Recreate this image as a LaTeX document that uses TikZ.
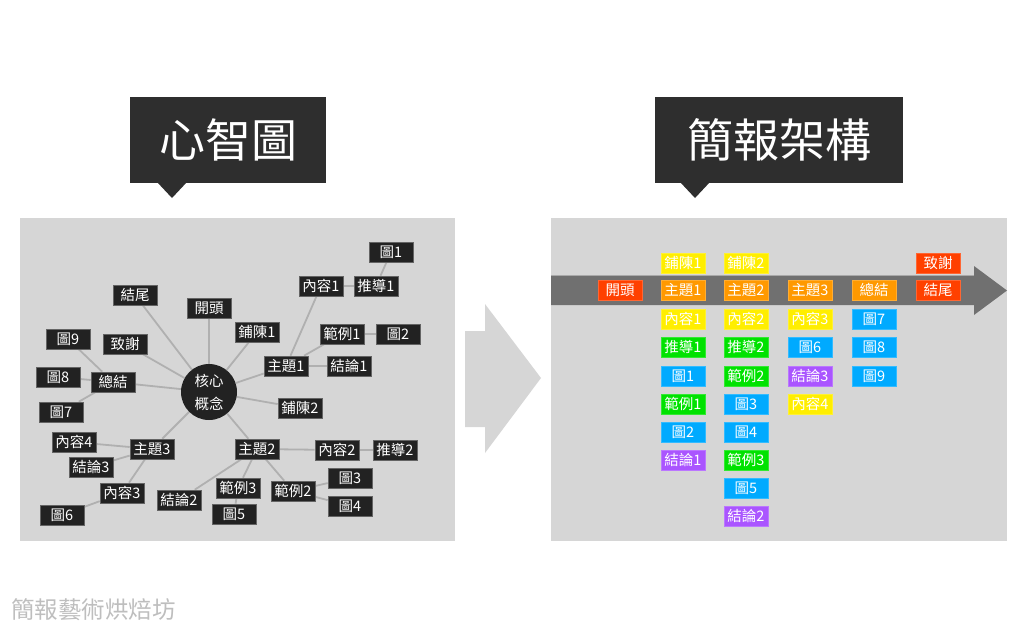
\documentclass[tikz,border=0pt]{standalone}
\usepackage{fontspec}
\setmainfont{Noto Sans CJK TC}
\usepackage{tikz}
\usetikzlibrary{positioning, backgrounds}
\definecolor{TitleDark}  {RGB}{46,  46,  46}
\definecolor{PanelGray}  {RGB}{214, 214, 214}
\definecolor{NodeDark}   {RGB}{34,  34,  34}
\definecolor{LinkGray}   {RGB}{176, 176, 176}
\definecolor{BandGray}   {RGB}{112, 112, 112}
\definecolor{FootGray}   {RGB}{190, 190, 190}
\definecolor{OpenRed}    {RGB}{255, 64,  0}
\definecolor{ThemeOrange}{RGB}{255, 153, 0}
\definecolor{IntroYellow}{RGB}{255, 238, 0}
\definecolor{ProofGreen} {RGB}{0,   226, 0}
\definecolor{FigBlue}    {RGB}{0,   170, 255}
\definecolor{ConclPurple}{RGB}{170, 85,  255}

\begin{document}
\begin{tikzpicture}[
  x=1pt, y=-1pt,
  title/.style = {
    rectangle, fill=TitleDark, text=white,
    minimum height=86pt, inner sep=0pt,
    font=\fontsize{46}{46}\selectfont
  },
  panel/.style = {fill=PanelGray},
  idea/.style = {
    rectangle, fill=NodeDark, draw=NodeDark!70!white, line width=0.6pt,
    minimum width=44pt, minimum height=20pt, inner sep=0pt,
    text=white, font=\fontsize{14.5}{14.5}\selectfont
  },
  core/.style = {
    circle, fill=NodeDark, minimum size=56pt, inner sep=0pt,
    text=white, align=center, font=\fontsize{14.5}{23}\selectfont
  },
  link/.style = {draw=LinkGray, line width=1.8pt},
  slide/.style = {
    rectangle, fill=#1, draw=#1!80!white, line width=0.5pt,
    minimum width=44pt, minimum height=20pt, inner sep=0pt,
    text=white, font=\fontsize{14.5}{14.5}\selectfont
  }
]
\useasboundingbox (0,0) rectangle (1024,630);

% Panels and middle arrow
\begin{scope}[on background layer]
  \fill[panel] (20,218) rectangle (455,541);
  \fill[panel] (551,218) rectangle (1007,541);
  \fill[panel] (465,331) -- (485,331) -- (485,304) -- (541,378)
    -- (485,453) -- (485,427) -- (465,427) -- cycle;
\end{scope}

% Titles
\node[title, minimum width=196pt] (titlemap) at (228,140) {心智圖};
\fill[TitleDark] (157,182) -- (187,182) -- (172,198) -- cycle;
\node[title, minimum width=248pt] (titledeck) at (779,140) {簡報架構};
\fill[TitleDark] (680,182) -- (710,182) -- (695,198) -- cycle;

% Mind map
\node[core] (core) at (209,392) {核心\\概念};
\node[idea] (open)    at (209,308) {開頭};
\node[idea] (close)   at (135,295) {結尾};
\node[idea] (thanks)  at (125,344) {致謝};
\node[idea] (sum)     at (113,382) {總結};
\node[idea] (fig9)    at (68,339)  {圖9};
\node[idea] (fig8)    at (58,377)  {圖8};
\node[idea] (fig7)    at (61,412)  {圖7};

\node[idea] (intro1)  at (257,332) {鋪陳1};
\node[idea] (theme1)  at (286,366) {主題1};
\node[idea] (cont1)   at (321,286) {內容1};
\node[idea] (deriv1)  at (376,286) {推導1};
\node[idea] (fig1)    at (391,252) {圖1};
\node[idea] (ex1)     at (342,334) {範例1};
\node[idea] (fig2)    at (398,334) {圖2};
\node[idea] (concl1)  at (349,366) {結論1};

\node[idea] (intro2)  at (300,408) {鋪陳2};
\node[idea] (theme2)  at (257,449) {主題2};
\node[idea] (cont2)   at (337,450) {內容2};
\node[idea] (deriv2)  at (395,450) {推導2};
\node[idea] (ex2)     at (293,491) {範例2};
\node[idea] (fig3)    at (350,478) {圖3};
\node[idea] (fig4)    at (350,506) {圖4};
\node[idea] (ex3)     at (238,488) {範例3};
\node[idea] (fig5)    at (234,514) {圖5};
\node[idea] (concl2)  at (179,500) {結論2};

\node[idea] (theme3)  at (152,449) {主題3};
\node[idea] (cont4)   at (74,442)  {內容4};
\node[idea] (concl3)  at (91,467)  {結論3};
\node[idea] (cont3)   at (122,493) {內容3};
\node[idea] (fig6)    at (62,515)  {圖6};

\begin{scope}[on background layer]
  \draw[link] (core) -- (open);
  \draw[link] (core) -- (close);
  \draw[link] (core) -- (thanks);
  \draw[link] (core) -- (sum);
  \draw[link] (core) -- (intro1);
  \draw[link] (core) -- (theme1);
  \draw[link] (core) -- (intro2);
  \draw[link] (core) -- (theme2);
  \draw[link] (core) -- (theme3);
  \draw[link] (sum) -- (fig9);
  \draw[link] (sum) -- (fig8);
  \draw[link] (sum) -- (fig7);
  \draw[link] (theme1) -- (cont1);
  \draw[link] (cont1) -- (deriv1);
  \draw[link] (deriv1) -- (fig1);
  \draw[link] (theme1) -- (ex1);
  \draw[link] (ex1) -- (fig2);
  \draw[link] (theme1) -- (concl1);
  \draw[link] (theme2) -- (cont2);
  \draw[link] (cont2) -- (deriv2);
  \draw[link] (theme2) -- (ex2);
  \draw[link] (ex2) -- (fig3);
  \draw[link] (ex2) -- (fig4);
  \draw[link] (theme2) -- (ex3);
  \draw[link] (ex3) -- (fig5);
  \draw[link] (theme2) -- (concl2);
  \draw[link] (theme3) -- (cont4);
  \draw[link] (theme3) -- (concl3);
  \draw[link] (theme3) -- (cont3);
  \draw[link] (cont3) -- (fig6);
\end{scope}

% Presentation timeline
\fill[BandGray] (551,275) -- (974,275) -- (974,266) -- (1007,290.5)
  -- (974,315) -- (974,305) -- (551,305) -- cycle;
\draw[BandGray!60!white, line width=0.8pt] (551,275) -- (974,275);

\node[slide=OpenRed] (s-open) at (620,290) {開頭};

\node[slide=IntroYellow] (s-intro1)  at (683,263) {鋪陳1};
\node[slide=ThemeOrange] (s-theme1)  at (683,290) {主題1};
\node[slide=IntroYellow] (s-cont1)   at (683,319) {內容1};
\node[slide=ProofGreen]  (s-deriv1)  at (683,347) {推導1};
\node[slide=FigBlue]     (s-fig1)    at (683,376) {圖1};
\node[slide=ProofGreen]  (s-ex1)     at (683,404) {範例1};
\node[slide=FigBlue]     (s-fig2)    at (683,432) {圖2};
\node[slide=ConclPurple] (s-concl1)  at (683,460) {結論1};

\node[slide=IntroYellow] (s-intro2)  at (746,263) {鋪陳2};
\node[slide=ThemeOrange] (s-theme2)  at (746,290) {主題2};
\node[slide=IntroYellow] (s-cont2)   at (746,319) {內容2};
\node[slide=ProofGreen]  (s-deriv2)  at (746,347) {推導2};
\node[slide=ProofGreen]  (s-ex2)     at (746,376) {範例2};
\node[slide=FigBlue]     (s-fig3)    at (746,404) {圖3};
\node[slide=FigBlue]     (s-fig4)    at (746,432) {圖4};
\node[slide=ProofGreen]  (s-ex3)     at (746,460) {範例3};
\node[slide=FigBlue]     (s-fig5)    at (746,488) {圖5};
\node[slide=ConclPurple] (s-concl2)  at (746,516) {結論2};

\node[slide=ThemeOrange] (s-theme3)  at (810,290) {主題3};
\node[slide=IntroYellow] (s-cont3)   at (810,319) {內容3};
\node[slide=FigBlue]     (s-fig6)    at (810,347) {圖6};
\node[slide=ConclPurple] (s-concl3)  at (810,376) {結論3};
\node[slide=IntroYellow] (s-cont4)   at (810,404) {內容4};

\node[slide=ThemeOrange] (s-sum)     at (874,290) {總結};
\node[slide=FigBlue]     (s-fig7)    at (874,319) {圖7};
\node[slide=FigBlue]     (s-fig8)    at (874,347) {圖8};
\node[slide=FigBlue]     (s-fig9)    at (874,376) {圖9};

\node[slide=OpenRed]     (s-thanks)  at (938,263) {致謝};
\node[slide=OpenRed]     (s-close)   at (938,290) {結尾};

% Footer
\node[anchor=west, text=FootGray, inner sep=0pt,
  font=\fontsize{23.5}{23.5}\selectfont] (footer) at (11,610) {簡報藝術烘焙坊};

\end{tikzpicture}
\end{document}
